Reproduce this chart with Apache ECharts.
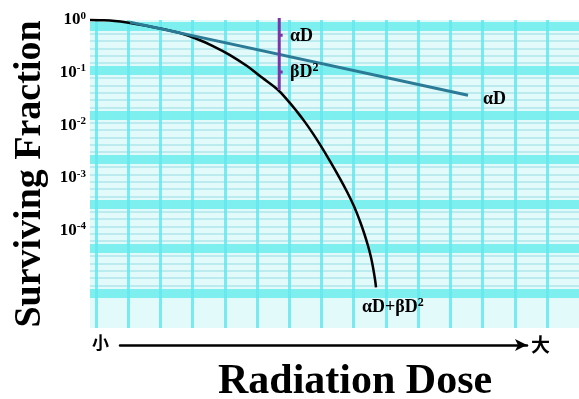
<!DOCTYPE html>
<html>
<head>
<meta charset="utf-8">
<script src="https://cdn.jsdelivr.net/npm/echarts@6/dist/echarts.min.js"></script>
<style>
  html, body { margin: 0; padding: 0; background: #fff; }
  #chart { width: 579px; height: 399px; }
</style>
</head>
<body>
<div id="chart"></div>
<script>
// dose in arbitrary units, survival as log10(fraction)
const lqDose = [0, 0.204, 0.511, 0.818, 1.125, 1.431, 1.84, 2.188, 2.515, 2.863, 3.211, 3.517, 3.824, 4.029, 4.233,
  4.397, 4.56, 4.724, 4.908, 5.072, 5.256, 5.399, 5.521, 5.603, 5.685, 5.746, 5.787, 5.828, 5.849];
const lqLogS = [0, -0.004, -0.019, -0.057, -0.105, -0.162, -0.248, -0.362, -0.495, -0.667, -0.876, -1.095, -1.314, -1.514, -1.743,
  -1.943, -2.162, -2.4, -2.686, -2.952, -3.267, -3.543, -3.829, -4.048, -4.295, -4.514, -4.705, -4.933, -5.086];
const alphaDose = [0.82, 7.73];
const alphaLogS = [-0.04, -1.43];
// bracket showing the αD and βD² parts
const bracketDose = [3.87, 3.87, 3.94, 3.87, 3.87, 3.94, 3.87, 3.87];
const bracketLogS = [0.04, -0.29, -0.29, -0.29, -0.99, -0.99, -0.99, -1.33];
const decadeTicks = [0, -1, -2, -3, -4];

const serif = "Liberation Serif";
const zip = (xs, ys) => xs.map((x, i) => [x, ys[i]]);

const richLabel = {
  m: { fontFamily: serif, fontWeight: "bold", fontSize: 18, color: "#000" },
  s: { fontFamily: serif, fontWeight: "bold", fontSize: 12, color: "#000", padding: [0, 0, 8, 0] },
};
const label = (left, top, text) => ({
  type: "text", left, top, z: 100,
  style: { text, rich: richLabel, fill: "#000" },
});

const chart = echarts.init(document.getElementById("chart"));

chart.setOption({
  animation: false,
  backgroundColor: "#fff",
  grid: [
    { left: 90, right: 0, top: 20, bottom: 71, show: true, backgroundColor: "#e2fafa", borderWidth: 0, z: -5 },
    { left: 90, right: 0, top: 26, bottom: 106 },
    { left: 96, right: 32, top: 20, bottom: 71 },
    { left: 120, right: 52, top: 340, height: 5 },
  ],
  xAxis: [
    { gridIndex: 0, type: "value", min: 0, max: 10, show: false },
    { gridIndex: 1, type: "value", min: 0, max: 1, show: false },
    {
      gridIndex: 2, type: "value", min: 0, max: 14, interval: 1,
      axisLine: { show: false }, axisTick: { show: false }, axisLabel: { show: false },
      splitLine: { show: true, lineStyle: { color: "rgba(100,232,236,0.85)", width: 3 } },
    },
    {
      gridIndex: 3, type: "value", min: 0, max: 1, position: "bottom",
      axisLine: { show: true, symbol: ["none", "arrow"], symbolSize: [9, 12], lineStyle: { color: "#000", width: 2.5 } },
      axisTick: { show: false }, axisLabel: { show: false }, splitLine: { show: false },
      name: "大", nameLocation: "end", nameGap: 4,
      nameTextStyle: { fontFamily: "Noto Sans CJK SC", fontWeight: "bold", fontSize: 19, color: "#000" },
    },
  ],
  yAxis: [
    {
      gridIndex: 0, type: "value", min: -5.86, max: 0,
      axisLine: { show: false }, axisTick: { show: false }, splitLine: { show: false },
      axisLabel: {
        customValues: decadeTicks,
        margin: 4,
        formatter: (v) => "{b|10}{s|" + (v === 0 ? "0" : "-" + Math.abs(v)) + "}",
        rich: {
          b: { fontFamily: serif, fontWeight: "bold", fontSize: 17, color: "#000" },
          s: { fontFamily: serif, fontWeight: "bold", fontSize: 11, color: "#000", padding: [0, 0, 8, 0] },
        },
      },
      name: "Surviving Fraction", nameLocation: "middle", nameGap: 40, nameRotate: 90,
      nameTextStyle: { fontFamily: serif, fontWeight: "bold", fontSize: 38, color: "#000" },
    },
    {
      gridIndex: 1, type: "value", min: 0, max: 6, interval: 1,
      axisLine: { show: false }, axisTick: { show: false }, axisLabel: { show: false },
      splitLine: { show: true, lineStyle: { color: "rgba(100,236,236,0.8)", width: 9 } },
      minorTick: { show: false, splitNumber: 6 },
      minorSplitLine: { show: true, lineStyle: { color: "rgba(110,205,215,0.45)", width: 1.5 } },
    },
    { gridIndex: 2, type: "value", min: 0, max: 1, show: false },
    { gridIndex: 3, type: "value", min: 0, max: 1, show: false },
  ],
  graphic: [
    { type: "text", left: 92, top: 334, z: 100, style: { text: "小", font: "bold 17px 'Noto Sans CJK SC'", fill: "#000" } },
    { type: "text", left: 218, top: 361, z: 100, style: { text: "Radiation Dose", font: "bold 42px 'Liberation Serif'", fill: "#000" } },
    label(290, 27, "{m|αD}"),
    label(290, 62, "{m|βD}{s|2}"),
    label(483, 90, "{m|αD}"),
    label(362, 297, "{m|αD+βD}{s|2}"),
  ],
  series: [
    {
      name: "αD+βD²", type: "line", xAxisIndex: 0, yAxisIndex: 0,
      data: zip(lqDose, lqLogS), smooth: 0.4, showSymbol: false, clip: false, z: 5,
      lineStyle: { color: "#000", width: 2.5 },
    },
    {
      name: "αD", type: "line", xAxisIndex: 0, yAxisIndex: 0,
      data: zip(alphaDose, alphaLogS), showSymbol: false, clip: false, z: 6,
      lineStyle: { color: "#2b7b96", width: 3 },
    },
    {
      name: "bracket", type: "line", xAxisIndex: 0, yAxisIndex: 0,
      data: zip(bracketDose, bracketLogS), showSymbol: false, clip: false, z: 7,
      lineStyle: { color: "#7d34a8", width: 3 },
    },
  ],
});
</script>
</body>
</html>
